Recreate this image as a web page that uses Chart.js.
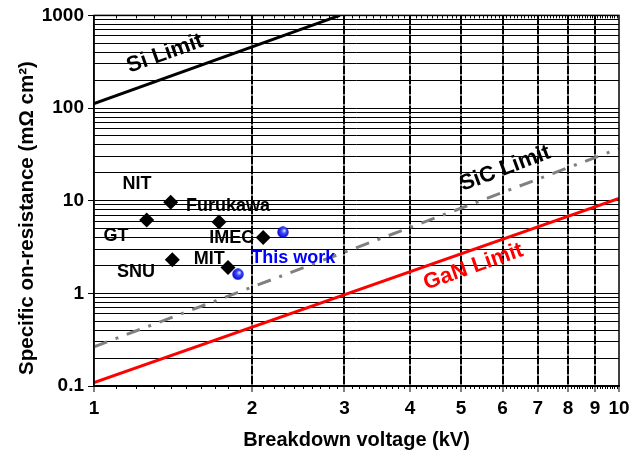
<!DOCTYPE html>
<html>
<head>
<meta charset="utf-8">
<script src="https://cdn.jsdelivr.net/npm/chart.js@4.4.1/dist/chart.umd.min.js"></script>
<style>
  html, body { margin: 0; padding: 0; background: #fff; }
</style>
</head>
<body>
<canvas id="chart" width="642" height="457"></canvas>
<script>
// Dados (kV, mΩ·cm²)
const deviceNames   = ['NIT', 'Furukawa', 'GT', 'IMEC', 'SNU', 'MIT'];
const deviceVoltage = [1.40, 1.73, 1.26, 2.10, 1.41, 1.80];
const deviceRon     = [9.6, 5.9, 6.2, 4.0, 2.3, 1.9];

const thisWorkVoltage = [2.29, 1.88];
const thisWorkRon     = [4.57, 1.61];

const siLimitV    = [1, 2.94];
const siLimitRon  = [112, 1000];
const sicLimitV   = [1, 10];
const sicLimitRon = [0.265, 36.6];
const ganLimitV   = [1, 10];
const ganLimitRon = [0.109, 10.6];

const xTickLabels = ['1', '2', '3', '4', '5', '6', '7', '8', '9', '10'];
const yTickLabels = ['0.1', '1', '10', '100', '1000'];

// Rótulos de texto (posição em coordenadas dos dados)
const pointLabelText = ['NIT', 'Furukawa', 'GT', 'IMEC', 'SNU', 'MIT'];
const pointLabelV    = [1.207, 1.80, 1.101, 1.83, 1.202, 1.658];
const pointLabelRon  = [15.1, 8.8, 4.14, 3.97, 1.71, 2.32];

const FONT = "'Liberation Sans', Arial, Helvetica, sans-serif";
const Y_TITLE = 'Specific on-resistance (mΩ cm²)';

const toPts = (xs, ys) => xs.map((x, i) => ({ x: x, y: ys[i] }));
const isDecade = v => Math.abs(Math.log10(v) - Math.round(Math.log10(v))) < 1e-9;

// bolinha azul com brilho
function makeBall(r) {
  const c = document.createElement('canvas');
  c.width = c.height = r * 2;
  const g = c.getContext('2d');
  const grad = g.createRadialGradient(r * 1.25, r * 0.7, 0.5, r, r, r);
  grad.addColorStop(0, '#d8e0ff');
  grad.addColorStop(0.35, '#3d4dff');
  grad.addColorStop(1, '#0000c8');
  g.fillStyle = grad;
  g.beginPath();
  g.arc(r, r, r - 0.3, 0, Math.PI * 2);
  g.fill();
  return c;
}

// grade menor do eixo y
const yGridValues = [];
[0.1, 1, 10, 100].forEach(d => { for (let k = 1; k <= 9; k++) yGridValues.push(k * d); });
yGridValues.push(1000);

const extras = {
  id: 'extras',
  afterDatasetsDraw(chart) {
    const ctx = chart.ctx, xs = chart.scales.x, ys = chart.scales.y;
    const px = v => xs.getPixelForValue(v), py = v => ys.getPixelForValue(v);
    ctx.save();
    ctx.textAlign = 'center';
    ctx.textBaseline = 'middle';
    ctx.font = 'bold 18px ' + FONT;
    ctx.fillStyle = '#000';
    pointLabelText.forEach((t, i) => ctx.fillText(t, px(pointLabelV[i]), py(pointLabelRon[i])));
    ctx.fillStyle = '#0000ff';
    ctx.fillText('This work', px(2.397), py(2.41));

    // rótulos dos limites, inclinados conforme a reta
    const limitLabel = (text, color, v, r, lv, lr) => {
      const ang = Math.atan2(py(lr[1]) - py(lr[0]), px(lv[1]) - px(lv[0]));
      ctx.save();
      ctx.translate(px(v), py(r));
      ctx.rotate(ang);
      ctx.font = 'bold 22px ' + FONT;
      ctx.fillStyle = color;
      ctx.fillText(text, 0, 0);
      ctx.restore();
    };
    limitLabel('Si Limit', '#000', 1.365, 386, siLimitV, siLimitRon);
    limitLabel('SiC Limit', '#000', 6.07, 22.2, sicLimitV, sicLimitRon);
    limitLabel('GaN Limit', '#ff0000', 5.28, 1.93, ganLimitV, ganLimitRon);
    ctx.restore();
  },
  afterDraw(chart) {
    const ctx = chart.ctx, a = chart.chartArea, xs = chart.scales.x;
    ctx.save();
    ctx.strokeStyle = '#000';
    ctx.lineWidth = 1.5;
    ctx.strokeRect(a.left, a.top, a.right - a.left, a.bottom - a.top);
    // ticks menores do eixo x
    ctx.lineWidth = 1;
    for (let i = 1; i < 10; i++) {
      for (let j = 1; j < 10; j++) {
        const x = Math.round(xs.getPixelForValue(i + j / 10)) + 0.5;
        ctx.beginPath();
        ctx.moveTo(x, a.bottom); ctx.lineTo(x, a.bottom + 3);
        ctx.moveTo(x, a.top); ctx.lineTo(x, a.top + 3);
        ctx.stroke();
      }
    }
    // título do eixo y (um pouco abaixo do centro, como no original)
    ctx.translate(27, 218);
    ctx.rotate(-Math.PI / 2);
    ctx.textAlign = 'center';
    ctx.textBaseline = 'middle';
    ctx.font = 'bold 20.5px ' + FONT;
    ctx.fillStyle = '#000';
    ctx.fillText(Y_TITLE, 0, 0);
    ctx.restore();
  }
};

new Chart(document.getElementById('chart'), {
  type: 'scatter',
  data: {
    datasets: [
      {
        label: 'This work',
        data: toPts(thisWorkVoltage, thisWorkRon),
        pointStyle: makeBall(6),
        pointRadius: 6
      },
      {
        label: 'Outros',
        data: toPts(deviceVoltage, deviceRon),
        pointStyle: 'rectRot',
        pointRadius: 7.5,
        backgroundColor: '#000',
        borderColor: '#000',
        borderWidth: 0
      },
      {
        label: 'Si Limit',
        data: toPts(siLimitV, siLimitRon),
        showLine: true, pointRadius: 0,
        borderColor: '#000', borderWidth: 3
      },
      {
        label: 'SiC Limit',
        data: toPts(sicLimitV, sicLimitRon),
        showLine: true, pointRadius: 0,
        borderColor: '#808080', borderWidth: 3,
        borderDash: [14, 9, 3, 9]
      },
      {
        label: 'GaN Limit',
        data: toPts(ganLimitV, ganLimitRon),
        showLine: true, pointRadius: 0,
        borderColor: '#ff0000', borderWidth: 3
      }
    ]
  },
  options: {
    responsive: false,
    animation: false,
    layout: { padding: { left: 0, right: 23, top: 15, bottom: 0 } },
    plugins: { legend: { display: false }, tooltip: { enabled: false } },
    scales: {
      x: {
        type: 'logarithmic',
        min: 1, max: 10,
        afterFit: s => { s.height = 71; },
        afterBuildTicks: s => { s.ticks = xTickLabels.map(t => ({ value: Number(t) })); },
        ticks: {
          autoSkip: false, maxRotation: 0, padding: 5,
          color: '#000',
          font: { family: FONT, size: 19, weight: 'bold' },
          callback: (v, i) => xTickLabels[i]
        },
        grid: {
          color: c => (c.tick && (c.tick.value === 1 || c.tick.value === 10)) ? 'rgba(0,0,0,0)' : '#000',
          lineWidth: 2,
          tickColor: '#000',
          tickLength: 6,
          tickWidth: 1
        },
        border: { color: '#000', width: 1.5, dash: [9, 1] },
        title: {
          display: true, text: 'Breakdown voltage (kV)', color: '#000',
          font: { family: FONT, size: 20, weight: 'bold' },
          padding: { top: 0, bottom: 5 }
        }
      },
      y: {
        type: 'logarithmic',
        min: 0.1, max: 1000,
        afterFit: s => { s.width = 94; },
        afterBuildTicks: s => { s.ticks = yGridValues.map(v => ({ value: v })); },
        ticks: {
          autoSkip: false, padding: 4,
          color: '#000',
          font: { family: FONT, size: 19, weight: 'bold' },
          callback: v => isDecade(v) ? yTickLabels[Math.round(Math.log10(v)) + 1] : ''
        },
        grid: {
          color: '#000',
          lineWidth: 1,
          tickColor: c => (c.tick && isDecade(c.tick.value)) ? '#000' : 'rgba(0,0,0,0)',
          tickLength: 6
        },
        border: { color: '#000', width: 1.5 },
        title: { display: false }
      }
    }
  },
  plugins: [extras]
});
</script>
</body>
</html>
